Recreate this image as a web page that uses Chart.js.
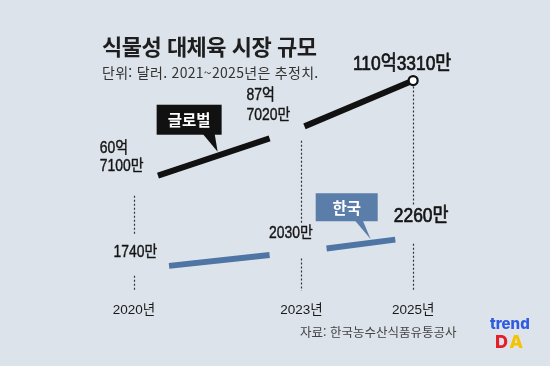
<!DOCTYPE html>
<html lang="ko"><head><meta charset="utf-8">
<script src="https://cdn.jsdelivr.net/npm/chart.js@4/dist/chart.umd.min.js"></script>
<style>
html,body{margin:0;padding:0;background:#dce3eb;}
#wrap{position:relative;width:550px;height:366px;overflow:hidden;background:#dce3eb;font-family:"Noto Sans CJK KR","Noto Sans",sans-serif;}
#c{position:absolute;left:0;top:0;}
.t{position:absolute;white-space:nowrap;margin:0;}
#title{left:102px;top:33px;font-size:22px;font-weight:700;color:#1e1e1e;letter-spacing:-0.5px;line-height:24px;}
#sub{left:102px;top:63px;font-size:14px;color:#333;line-height:18px;letter-spacing:0.3px;}
#src{left:300px;top:324px;font-size:12.5px;color:#444;line-height:16px;letter-spacing:0px;}
#logo1{left:490px;top:315px;font-family:"Inter",sans-serif;font-weight:800;font-size:15px;color:#2f5be0;line-height:18px;}
#logo2{left:495px;top:332px;font-family:"Inter",sans-serif;font-weight:800;font-size:18px;line-height:20px;letter-spacing:2px;}
#logo2 .d{color:#e41e2b;} #logo2 .a{color:#f6c300;}
</style></head>
<body>
<div id="wrap">
<canvas id="c" width="550" height="366"></canvas>
<div class="t" id="title">식물성 대체육 시장 규모</div>
<div class="t" id="sub">단위: 달러. 2021~2025년은 추정치.</div>
<div class="t" id="src">자료: 한국농수산식품유통공사</div>
<div class="t" id="logo1">trend</div>
<div class="t" id="logo2"><span class="d">D</span><span class="a">A</span></div>
</div>
<script>
// ---- data ----
const years = [2020, 2023, 2025];
const tickLabels = ['2020년', '2023년', '2025년'];
const globalValues = [60.71, 87.70, 110.33];   // 억 달러
const koreaValues = [1740, 2030, 2260];        // 만 달러
const globalLabels = [['60억', '7100만'], ['87억', '7020만'], ['110억3310만']];
const koreaLabels = ['1740만', '2030만', '2260만'];
const seriesNames = ['글로벌', '한국'];

// ---- style ----
const BLACK = '#111111';
const BLUE = '#4e75a3';
const TAGBLUE = '#5a7ea9';
const LABEL_FAMILY = '"Liberation Sans", "Noto Sans CJK KR", sans-serif';
const SQUEEZE = 0.87;
// visible fraction of each line segment [start, end]
const globalSegVisible = [[0.144, 0.81], [0.027, 1]];
const koreaSegVisible = [[0.21, 0.81], [0.225, 0.84]];
// label offsets relative to points
const globalLabelPos = [
  {dx: -34, dy: [-35, -17], align: 'left', size: 16, stroke: 0.4},
  {dx: -55, dy: [-32, -12], align: 'left', size: 16, stroke: 0.4},
  {dx: -11, dy: [-16], align: 'center', size: 20, stroke: 0.7}
];
const koreaLabelPos = [
  {dx: 1.5, dy: -17, align: 'center', size: 16, stroke: 0.4},
  {dx: -10.5, dy: -18, align: 'center', size: 16, stroke: 0.4},
  {dx: 8, dy: -20.5, align: 'center', size: 20, stroke: 0.7}
];
// drop line gaps: [below global point, above korea point, below korea point]
const dropGaps = [[12, 34, 6], [13, 28, 7], [6, 32, 6.5]];

function segStyle(vis) {
  const len = c => Math.hypot(c.p1.x - c.p0.x, c.p1.y - c.p0.y);
  return {
    borderDash: c => { const L = len(c), v = vis[c.p0DataIndex]; return [(v[1] - v[0]) * L, 5000]; },
    borderDashOffset: c => { const L = len(c), v = vis[c.p0DataIndex]; return (v[1] - v[0]) * L + 5000 - v[0] * L; }
  };
}

function squeezeText(ctx, text, x, y, p) {
  ctx.save();
  ctx.font = `normal ${p.size}px ${LABEL_FAMILY}`;
  ctx.translate(x, y);
  ctx.scale(SQUEEZE, 1);
  ctx.textAlign = p.align;
  ctx.textBaseline = 'middle';
  ctx.fillText(text, 0, 0);
  if (p.stroke) {
    ctx.lineWidth = p.stroke;
    ctx.lineJoin = 'round';
    ctx.strokeText(text, 0, 0);
  }
  ctx.restore();
}

function tag(ctx, tipX, tipY, b, text, color) {
  const L = tipX + b.dx, B = tipY + b.dy, T = B - b.h;
  ctx.save();
  ctx.fillStyle = color;
  ctx.fillRect(L, T, b.w, b.h);
  ctx.beginPath();
  ctx.moveTo(tipX + b.p0, B - 1);
  ctx.lineTo(tipX + b.p1, B - 1);
  ctx.lineTo(tipX, tipY);
  ctx.closePath();
  ctx.fill();
  ctx.fillStyle = '#ffffff';
  ctx.font = `bold 15.5px "Noto Sans CJK KR", sans-serif`;
  ctx.textAlign = 'center';
  ctx.textBaseline = 'middle';
  ctx.fillText(text, L + b.w / 2, T + b.h / 2 + 0.5);
  ctx.restore();
}

const annot = {
  id: 'annot',
  beforeDatasetsDraw(chart) {
    const g = chart.getDatasetMeta(0).data, k = chart.getDatasetMeta(1).data;
    const ctx = chart.ctx, bottom = chart.chartArea.bottom - 2;
    ctx.save();
    ctx.strokeStyle = '#333';
    ctx.lineWidth = 1.2;
    ctx.setLineDash([2, 2]);
    years.forEach((_, i) => {
      const x = Math.round(g[i].x) + 0.5, s = dropGaps[i];
      ctx.beginPath();
      ctx.moveTo(x, g[i].y + s[0]); ctx.lineTo(x, k[i].y - s[1]);
      ctx.moveTo(x, k[i].y + s[2]); ctx.lineTo(x, bottom);
      ctx.stroke();
    });
    ctx.restore();
  },
  afterDatasetsDraw(chart) {
    const g = chart.getDatasetMeta(0).data, k = chart.getDatasetMeta(1).data;
    const ctx = chart.ctx;
    ctx.save();
    ctx.fillStyle = '#151515';
    ctx.strokeStyle = '#151515';
    globalLabels.forEach((lines, i) => {
      const p = globalLabelPos[i];
      lines.forEach((s, j) => squeezeText(ctx, s, g[i].x + p.dx, g[i].y + p.dy[j], p));
    });
    koreaLabels.forEach((s, i) => {
      const p = koreaLabelPos[i];
      squeezeText(ctx, s, k[i].x + p.dx, k[i].y + p.dy, p);
    });
    ctx.restore();
    // tags
    const t1 = 0.5, gx = g[0].x + t1 * (g[1].x - g[0].x), gy = g[0].y + t1 * (g[1].y - g[0].y);
    tag(ctx, gx, gy - 4, {dx: -61, dy: -17, w: 65, h: 30, p0: -15, p1: -3}, seriesNames[0], BLACK);
    const t2 = 0.62, kx = k[1].x + t2 * (k[2].x - k[1].x), ky = k[1].y + t2 * (k[2].y - k[1].y);
    tag(ctx, kx, ky - 3.5, {dx: -55, dy: -18, w: 62, h: 28, p0: -16, p1: -8}, seriesNames[1], TAGBLUE);
  }
};

new Chart(document.getElementById('c'), {
  type: 'line',
  data: {
    datasets: [
      {
        label: seriesNames[0],
        data: years.map((x, i) => ({x, y: globalValues[i]})),
        yAxisID: 'yG',
        borderColor: BLACK, borderWidth: 6, borderCapStyle: 'butt', tension: 0,
        pointRadius: [0, 0, 4.5], pointHoverRadius: 0,
        pointBackgroundColor: '#fff', pointBorderColor: BLACK, pointBorderWidth: 2.2,
        segment: segStyle(globalSegVisible), clip: false
      },
      {
        label: seriesNames[1],
        data: years.map((x, i) => ({x, y: koreaValues[i]})),
        yAxisID: 'yK',
        borderColor: BLUE, borderWidth: 6, borderCapStyle: 'butt', tension: 0,
        pointRadius: 0, pointHoverRadius: 0,
        segment: segStyle(koreaSegVisible), clip: false
      }
    ]
  },
  options: {
    responsive: false, animation: false, devicePixelRatio: 1,
    layout: {padding: {top: 17, left: 78, right: 81, bottom: 46}},
    plugins: {legend: {display: false}, tooltip: {enabled: false}},
    events: [],
    scales: {
      x: {
        type: 'linear', min: 2019, max: 2026,
        grid: {display: false}, border: {display: false},
        afterBuildTicks: s => { s.ticks = years.map(v => ({value: v})); },
        ticks: {
          padding: 1.5, color: '#1a1a1a', autoSkip: false, maxRotation: 0,
          font: {size: 13.5, family: LABEL_FAMILY},
          callback: v => { const i = years.indexOf(v); return i >= 0 ? tickLabels[i] : ''; }
        }
      },
      yG: {display: false, min: 8.3, max: 140.9},
      yK: {display: false, min: 1368, max: 5802}
    }
  },
  plugins: [annot]
});
</script>
</body></html>
